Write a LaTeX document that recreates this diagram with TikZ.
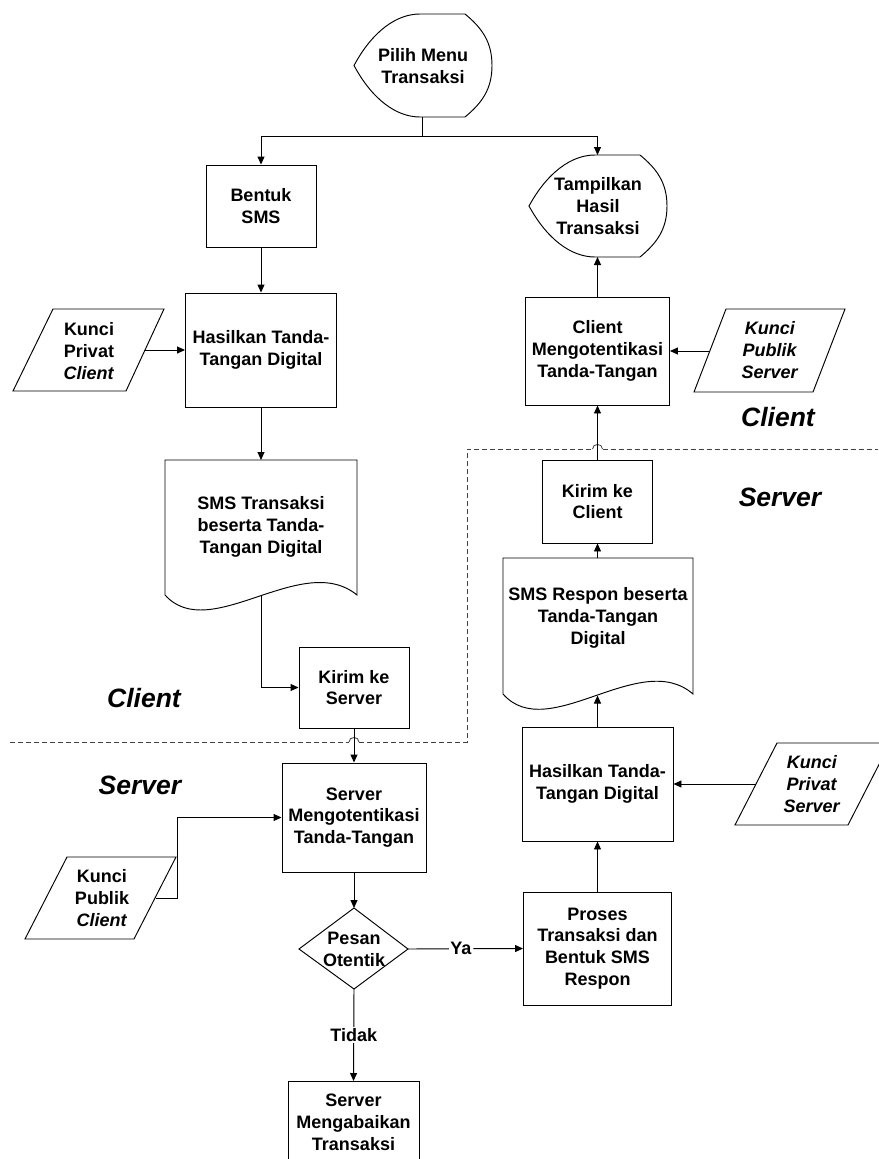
\documentclass[tikz,border=0pt]{standalone}
\usepackage{fontspec}
\setmainfont{Liberation Sans}
\usetikzlibrary{arrows.meta}

\begin{document}
\begin{tikzpicture}[x=1pt,y=-1pt,line width=0.95pt,
  txt/.style={font=\fontsize{18}{21.8}\selectfont\bfseries, align=center, inner sep=0pt},
  box/.style={txt, draw},
  region/.style={font=\fontsize{26.5}{30}\selectfont\bfseries\itshape, inner sep=0pt},
  arr/.style={-{Triangle[length=8pt,width=7pt]}},
  lane/.style={draw=black!75, dash pattern=on 5pt off 3pt, line width=0.8pt},
  hop/.style={draw=black!75, line width=0.8pt},
  yes/.style={fill=white, inner sep=1.5pt, font=\fontsize{18}{21.8}\selectfont\bfseries}]

\useasboundingbox (0,0) rectangle (878,1159);

% ---------- display shapes ----------
\node[txt] (pilih) at (423,66) {Pilih Menu\\Transaksi};
\draw (354,65.5) .. controls (372,32) and (396,14) .. (420,14) -- (465,14)
  .. controls (482,28) and (492,42) .. (492,65.5)
  .. controls (492,89) and (482,103) .. (465,117) -- (420,117)
  .. controls (396,117) and (372,99) .. (354,65.5) -- cycle;
\coordinate (pilihS) at (422,117);

\node[txt] (tampil) at (598,206) {Tampilkan\\Hasil\\Transaksi};
\draw (529,206) .. controls (547,173) and (571,155) .. (595,155) -- (640,155)
  .. controls (657,169) and (667,183) .. (667,206)
  .. controls (667,229) and (657,243) .. (640,257) -- (595,257)
  .. controls (571,257) and (547,239) .. (529,206) -- cycle;
\coordinate (tampilN) at (597.5,155);
\coordinate (tampilS) at (597.5,257);

% ---------- process boxes ----------
\node[box, minimum width=110pt, minimum height=82pt] (bentuk) at (261,206) {Bentuk\\SMS};
\node[box, minimum width=151pt, minimum height=114pt] (hasilC) at (261,350) {Hasilkan Tanda-\\Tangan Digital};
\node[box, minimum width=110pt, minimum height=81pt] (kirimS) at (354,687.5) {Kirim ke\\Server};
\node[box, minimum width=144pt, minimum height=109pt] (servA) at (354,817.5) {Server\\Mengotentikasi\\Tanda-Tangan};
\node[txt] (abaikan) at (353.5,1122) {Server\\Mengabaikan\\Transaksi};
\draw (288,1165) -- (288,1081) -- (419,1081) -- (419,1165);
\coordinate (abaikanN) at (353.5,1081);
\node[box, minimum width=148pt, minimum height=113pt] (proses) at (597.5,948.5) {Proses\\Transaksi dan\\Bentuk SMS\\Respon};
\node[box, minimum width=151pt, minimum height=114pt] (hasilS) at (597.5,784) {Hasilkan Tanda-\\Tangan Digital};
\node[box, minimum width=110pt, minimum height=83pt] (kirimC) at (597.5,501.5) {Kirim ke\\Client};
\node[box, minimum width=144pt, minimum height=108pt] (clientA) at (597.5,351) {Client\\Mengotentikasi\\Tanda-Tangan};

% ---------- documents ----------
\node[txt] (smsT) at (261,527) {SMS Transaksi\\beserta Tanda-\\Tangan Digital};
\draw (165,595) -- (165,460) -- (357,460) -- (357,595)
  .. controls (302,550) and (210,645) .. (165,595);
\coordinate (smsTn) at (261,460);
\coordinate (smsTw) at (261,596);

\node[txt] (smsR) at (598,618) {SMS Respon beserta\\Tanda-Tangan\\Digital};
\draw (503,694) -- (503,558) -- (693,558) -- (693,694)
  .. controls (640,648) and (548,745) .. (503,694);
\coordinate (smsRn) at (597.5,558);
\coordinate (smsRw) at (597.5,695.5);

% ---------- data (keys) ----------
\node[txt] (kpc) at (89,351) {Kunci\\Privat\\\textit{Client}};
\draw (53,309) -- (164,309) -- (126,391) -- (13,391) -- cycle;
\coordinate (kpcE) at (145,350);

\node[txt] (kpubc) at (102,898) {Kunci\\Publik\\\textit{Client}};
\draw (67,857) -- (176,857) -- (134,939) -- (25,939) -- cycle;
\coordinate (kpubcE) at (155.5,898);

\node[txt] (kpubs) at (770,350) {\textit{Kunci}\\\textit{Publik}\\\textit{Server}};
\draw (726,309) -- (845,309) -- (813,392) -- (694,392) -- cycle;
\coordinate (kpubsW) at (710,351);

\node[txt] (kprs) at (812,784) {\textit{Kunci}\\\textit{Privat}\\\textit{Server}};
\draw (777,743) -- (890,743) -- (848,825) -- (735,825) -- cycle;
\coordinate (kprsW) at (756,784);

% ---------- decision ----------
\node[txt] (otentik) at (354,949) {Pesan\\Otentik};
\coordinate (otN) at (354,908);
\coordinate (otS) at (354,989);
\coordinate (otW) at (299,949);
\coordinate (otE) at (408,949);
\draw (otN) -- (otE) -- (otS) -- (otW) -- cycle;

% ---------- swim-lane boundary ----------
\draw[lane] (10,742) -- (349,742);
\draw[hop] (349,742) .. controls (349,736) and (359,736) .. (359,742);
\draw[lane] (359,742) -- (467,742) -- (467,449) -- (592.5,449);
\draw[hop] (592.5,449) .. controls (592.5,443) and (602.5,443) .. (602.5,449);
\draw[lane] (602.5,449) -- (878,449);

\node[region] (lblClientL) at (144,698) {Client};
\node[region] (lblServerL) at (140,785) {Server};
\node[region] (lblClientR) at (778,417) {Client};
\node[region] (lblServerR) at (780,497) {Server};

% ---------- connectors ----------
\draw (pilihS) -- (422,136) coordinate (split);
\draw[arr] (split) -| (bentuk.north);
\draw[arr] (split) -| (tampilN);
\draw[arr] (bentuk.south) -- (hasilC.north);
\draw[arr] (kpcE) -- (hasilC.west);
\draw[arr] (hasilC.south) -- (smsTn);
\draw[arr] (smsTw) |- (kirimS.west);
\draw[arr] (kirimS.south) -- (servA.north);
\draw[arr] (kpubcE) -- ++(21.5,0) |- (servA.west);
\draw[arr] (servA.south) -- (otN);
\draw[arr] (otE) -- node[yes, pos=0.46] {Ya} (proses.west);
\draw[arr] (otS) -- node[yes, pos=0.5] {Tidak} (abaikanN);
\draw[arr] (proses.north) -- (hasilS.south);
\draw[arr] (kprsW) -- (hasilS.east);
\draw[arr] (hasilS.north) -- (smsRw);
\draw[arr] (smsRn) -- (kirimC.south);
\draw[arr] (kirimC.north) -- (clientA.south);
\draw[arr] (kpubsW) -- (clientA.east);
\draw[arr] (clientA.north) -- (tampilS);

\end{tikzpicture}
\end{document}
